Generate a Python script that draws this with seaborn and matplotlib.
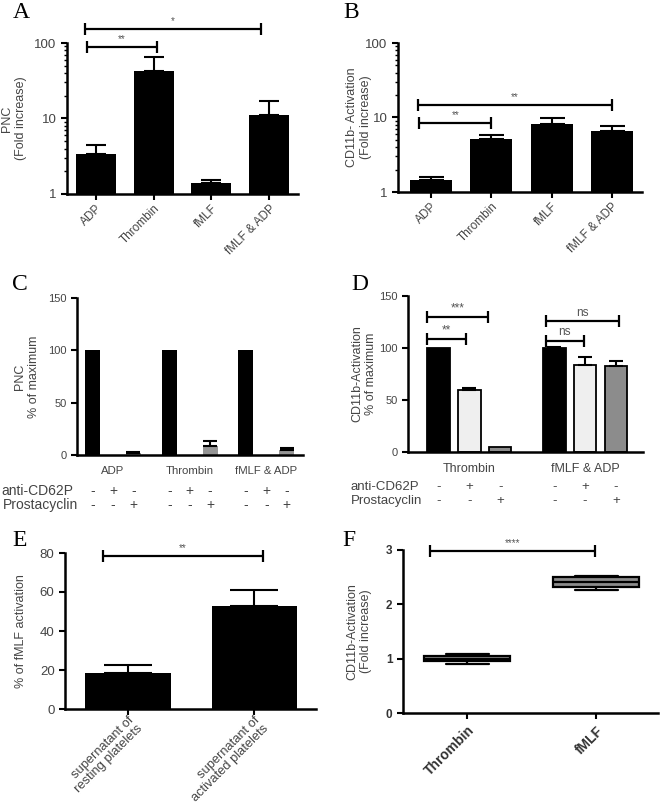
import matplotlib
matplotlib.use("Agg")
import matplotlib.pyplot as plt
import numpy as np
import pandas as pd
import seaborn as sns

# ------------------------------------------------------------
# Data
# ------------------------------------------------------------
agonists = ["ADP", "Thrombin", "fMLF", "fMLF & ADP"]
pnc_fold = [3.4, 43.0, 1.39, 11.2]
pnc_fold_sem = [1.05, 23.0, 0.14, 5.7]

cd11b_fold = [1.45, 5.1, 8.3, 6.6]
cd11b_fold_sem = [0.15, 0.8, 1.4, 1.1]

treatments = ["none", "anti-CD62P", "Prostacyclin"]
anti_signs = ["-", "+", "-"]
prost_signs = ["-", "-", "+"]

c_groups = ["ADP", "Thrombin", "fMLF & ADP"]
c_none = [100, 100, 100]
c_none_sem = [0, 0, 0]
c_anti = [0, 0, 0]
c_anti_sem = [0, 0, 0]
c_prost = [2.2, 9.0, 4.5]
c_prost_sem = [1.0, 4.7, 2.5]

d_groups = ["Thrombin", "fMLF & ADP"]
d_none = [100, 100]
d_none_sem = [0, 0.8]
d_anti = [59.6, 83.8]
d_anti_sem = [2.2, 8.0]
d_prost = [4.5, 82.8]
d_prost_sem = [0, 4.8]

sup_labels = ["supernatant of\nresting platelets", "supernatant of\nactivated platelets"]
sup_pct = [18.7, 52.9]
sup_sem = [3.8, 7.9]

box_cats = ["Thrombin", "fMLF"]
thrombin_box = [0.91, 0.96, 1.00, 1.04, 1.08]
fmlf_box = [2.26, 2.31, 2.42, 2.51, 2.52]

# significance brackets: (x start, x end, y, label), x in category units
brackets_a = [(-0.15, 1.05, 88, "**"), (-0.19, 2.86, 152, "*")]
brackets_b = [(-0.2, 1.0, 8.4, "**"), (-0.22, 3.0, 14.6, "**")]
brackets_d = [(-0.37, -0.03, 108.6, "**"), (-0.37, 0.16, 129.5, "***"),
              (0.66, 0.99, 107.2, "ns"), (0.66, 1.29, 125.6, "ns")]
brackets_e = [(-0.2, 1.07, 78.5, "**")]
brackets_f = [(-0.29, 0.99, 2.98, "****")]

# ------------------------------------------------------------
# Style
# ------------------------------------------------------------
sns.set_theme(style="ticks")
plt.rcParams["font.family"] = ["Liberation Sans", "DejaVu Sans"]
plt.rcParams.update({
    "text.color": "#444444",
    "axes.labelcolor": "#444444",
    "xtick.labelcolor": "#444444",
    "ytick.labelcolor": "#444444",
    "xtick.color": "black",
    "ytick.color": "black",
    "axes.edgecolor": "black",
    "axes.linewidth": 1.8,
    "xtick.major.width": 1.5,
    "ytick.major.width": 1.5,
    "xtick.major.size": 4,
    "ytick.major.size": 4,
    "xtick.labelsize": 8.5,
    "ytick.labelsize": 9.5,
    "axes.labelsize": 9,
})

LIGHT = "#efefef"
GREY = "#8c8c8c"

fig = plt.figure(figsize=(6.6, 8.05), dpi=100)


def px_axes(left, top, right, bottom):
    W, H = 660, 805
    return fig.add_axes([left / W, 1 - bottom / H, (right - left) / W, (bottom - top) / H])


def rebase_log_bars(container, base=1.0):
    # bars on a log axis start at the bottom of the axis instead of zero
    for patch in container.patches:
        top = patch.get_y() + patch.get_height()
        patch.set_y(base)
        patch.set_height(top - base)


def add_errors(ax, container, sems, capsize=4):
    for patch, s in zip(container.patches, sems):
        if s <= 0:
            continue
        x = patch.get_x() + patch.get_width() / 2
        top = patch.get_y() + patch.get_height()
        ax.errorbar(x, top, yerr=[[0], [s]], fmt="none", ecolor="black",
                    elinewidth=1.5, capsize=capsize, capthick=1.5, zorder=1)


def bracket(ax, x1, x2, y, text, fs=7):
    ax.plot([x1, x2], [y, y], color="black", lw=1.6, marker="|", ms=8, mew=1.6,
            clip_on=False, solid_capstyle="butt")
    ax.annotate(text, xy=((x1 + x2) / 2, y), xytext=(0, 2), textcoords="offset points",
                ha="center", va="bottom", fontsize=fs, color="#555555",
                annotation_clip=False)


def letter(x, y, s):
    fig.text(x / 660, 1 - y / 805, s, family="Liberation Serif", fontsize=17,
             ha="left", va="center", color="black")


def style_axes(ax):
    sns.despine(ax=ax)
    ax.set_xlabel("")


# ------------------------------------------------------------
# A: PNC fold increase (log)
# ------------------------------------------------------------
ax = px_axes(67, 43, 298, 194)
ax.set_yscale("log")
sns.barplot(x=agonists, y=pnc_fold, color="black", errorbar=None, width=0.69,
            linewidth=0, ax=ax)
rebase_log_bars(ax.containers[0])
add_errors(ax, ax.containers[0], pnc_fold_sem, capsize=7.5)
ax.set_ylim(1, 100)
ax.set_xlim(-0.5, 3.5)
ax.set_yticks([1, 10, 100], ["1", "10", "100"])
ax.tick_params(axis="y", which="minor", length=2.5, width=1)
ax.tick_params(axis="x", pad=2)
ax.set_ylabel("PNC\n(Fold increase)")
ax.yaxis.set_label_coords(-0.173, 0.5)
plt.setp(ax.get_xticklabels(), rotation=45, ha="right", rotation_mode="anchor")
for b in brackets_a:
    bracket(ax, *b)
style_axes(ax)

# ------------------------------------------------------------
# B: CD11b fold increase (log)
# ------------------------------------------------------------
ax = px_axes(398, 43, 642, 192)
ax.set_yscale("log")
sns.barplot(x=agonists, y=cd11b_fold, color="black", errorbar=None, width=0.7,
            linewidth=0, ax=ax)
rebase_log_bars(ax.containers[0])
add_errors(ax, ax.containers[0], cd11b_fold_sem, capsize=9)
ax.set_ylim(1, 100)
ax.set_xlim(-0.55, 3.5)
ax.set_yticks([1, 10, 100], ["1", "10", "100"])
ax.tick_params(axis="y", which="minor", length=2.5, width=1)
ax.tick_params(axis="x", pad=2)
ax.set_ylabel("CD11b- Activation\n(Fold increase)")
ax.yaxis.set_label_coords(-0.107, 0.5)
plt.setp(ax.get_xticklabels(), rotation=45, ha="right", rotation_mode="anchor")
for b in brackets_b:
    bracket(ax, *b)
style_axes(ax)


# ------------------------------------------------------------
# C / D: grouped bars with +/- rows
# ------------------------------------------------------------
def grouped(ax, groups, series, sems, palette, edge, lw, ylabel, lab_x, row_y, row_fs):
    df = pd.DataFrame({
        "group": np.repeat(groups, len(treatments)).tolist(),
        "treatment": treatments * len(groups),
        "value": np.array(series).T.ravel(),
    })
    sns.barplot(data=df, x="group", y="value", hue="treatment", hue_order=treatments,
                order=groups, palette=palette, width=0.8, gap=0.27, errorbar=None,
                edgecolor=edge, linewidth=lw, legend=False, ax=ax)
    for cont, s in zip(ax.containers, sems):
        add_errors(ax, cont, s, capsize=5)
    ax.set_ylim(0, 150)
    ax.set_yticks([0, 50, 100, 150])
    ax.tick_params(axis="y", labelsize=8)
    ax.tick_params(axis="x", length=0, pad=8, labelsize=8.2)
    ax.set_ylabel(ylabel)
    ax.yaxis.set_label_coords(lab_x, 0.5)
    tr = ax.get_xaxis_transform()
    for cont, a_sign, p_sign in zip(ax.containers, anti_signs, prost_signs):
        for patch in cont.patches:
            x = patch.get_x() + patch.get_width() / 2
            ax.text(x, row_y[0], a_sign, transform=tr, ha="center", va="center", fontsize=row_fs)
            ax.text(x, row_y[1], p_sign, transform=tr, ha="center", va="center", fontsize=row_fs)
    style_axes(ax)


ax = px_axes(77, 298, 303, 455)
grouped(ax, c_groups, [c_none, c_anti, c_prost], [c_none_sem, c_anti_sem, c_prost_sem],
        ["black", LIGHT, "#959595"], "none", 0, "PNC\n% of maximum", -0.164,
        (-0.229, -0.318), 10)
ax.set_xlim(-0.47, 2.48)
ax.text(-0.336, -0.229, "anti-CD62P", transform=ax.transAxes, ha="left", va="center", fontsize=10)
ax.text(-0.33, -0.318, "Prostacyclin", transform=ax.transAxes, ha="left", va="center", fontsize=10)

ax = px_axes(408, 296, 643, 452)
grouped(ax, d_groups, [d_none, d_anti, d_prost], [d_none_sem, d_anti_sem, d_prost_sem],
        ["black", LIGHT, GREY], "black", 1.3, "CD11b-Activation\n% of maximum", -0.132,
        (-0.227, -0.317), 9.5)
ax.tick_params(axis="x", labelsize=9)
ax.set_xlim(-0.53, 1.5)
ax.text(-0.243, -0.227, "anti-CD62P", transform=ax.transAxes, ha="left", va="center", fontsize=9.5)
ax.text(-0.243, -0.317, "Prostacyclin", transform=ax.transAxes, ha="left", va="center", fontsize=9.5)
for b in brackets_d:
    bracket(ax, *b, fs=8.5)

# ------------------------------------------------------------
# E: supernatant
# ------------------------------------------------------------
ax = px_axes(65, 553, 316, 709)
sns.barplot(x=sup_labels, y=sup_pct, color="black", errorbar=None, width=0.675,
            linewidth=0, ax=ax)
add_errors(ax, ax.containers[0], sup_sem, capsize=17)
ax.set_ylim(0, 80)
ax.set_xlim(-0.5, 1.49)
ax.set_yticks([0, 20, 40, 60, 80])
ax.tick_params(axis="x", pad=0)
ax.set_ylabel("% of fMLF activation")
ax.yaxis.set_label_coords(-0.151, 0.5)
plt.setp(ax.get_xticklabels(), rotation=45, ha="right", rotation_mode="anchor",
         multialignment="right", fontsize=9.3, linespacing=0.95)
for b in brackets_e:
    bracket(ax, *b)
style_axes(ax)

# ------------------------------------------------------------
# F: box plot
# ------------------------------------------------------------
ax = px_axes(403, 550, 658, 713)
box_df = pd.DataFrame({
    "agonist": [box_cats[0]] * len(thrombin_box) + [box_cats[1]] * len(fmlf_box),
    "value": thrombin_box + fmlf_box,
})
sns.boxplot(data=box_df, x="agonist", y="value", order=box_cats, whis=(0, 100),
            width=0.667, color=GREY, linecolor="black", linewidth=1.6, ax=ax)
ax.set_ylim(0, 3)
ax.set_xlim(-0.5, 1.48)
ax.set_yticks([0, 1, 2, 3])
ax.set_ylabel("CD11b-Activation\n(Fold increase)")
ax.yaxis.set_label_coords(-0.122, 0.5)
plt.setp(ax.get_xticklabels(), rotation=45, ha="right", rotation_mode="anchor",
         fontweight="bold", color="#333333", fontsize=10)
plt.setp(ax.get_yticklabels(), fontweight="bold", color="#333333", fontsize=8.5)
for b in brackets_f:
    bracket(ax, *b)
style_axes(ax)

# panel letters
letter(13, 13, "A")
letter(343, 13, "B")
letter(12, 284, "C")
letter(351, 284, "D")
letter(12, 540, "E")
letter(342, 540, "F")

fig.savefig("out.png", dpi=100)
